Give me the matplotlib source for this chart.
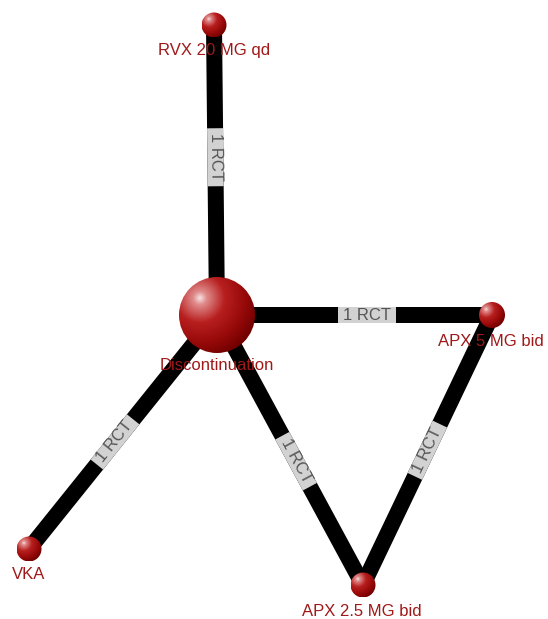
import numpy as np
import matplotlib
matplotlib.use("Agg")
import matplotlib.pyplot as plt
from matplotlib.patches import Circle, Polygon

# nodes (pixel layout of the network plot)
node_names = ["RVX 20 MG qd", "Discontinuation", "APX 5 MG bid", "VKA", "APX 2.5 MG bid"]
node_x = [214, 217, 492, 29, 363]
node_y = [25, 315, 315, 549, 585]
node_r = [12.5, 38, 13, 12.5, 12.5]
label_dx = [0, 0, -1, 0, -1]
label_dy = [30, 55, 31, 30, 31]

# edges: (from, to, label)
edge_from = [1, 1, 1, 1, 2]
edge_to = [0, 2, 3, 4, 4]
edge_labels = ["1 RCT", "1 RCT", "1 RCT", "1 RCT", "1 RCT"]

W, H = 548, 619
fig = plt.figure(figsize=(W / 100, H / 100), dpi=100)
ax = fig.add_axes([0, 0, 1, 1])
ax.set_xlim(0, W)
ax.set_ylim(H, 0)
ax.axis("off")

edge_px = 16
lw = edge_px * 72 / 100

# edges
for a, b, lab in zip(edge_from, edge_to, edge_labels):
    x1, y1, x2, y2 = node_x[a], node_y[a], node_x[b], node_y[b]
    ax.plot([x1, x2], [y1, y2], color="black", lw=lw, solid_capstyle="butt", zorder=1)
    d = np.hypot(x2 - x1, y2 - y1)
    ux, uy = (x2 - x1) / d, (y2 - y1) / d
    sx, sy = x1 + ux * node_r[a], y1 + uy * node_r[a]
    ex, ey = x2 - ux * node_r[b], y2 - uy * node_r[b]
    mx, my = (sx + ex) / 2, (sy + ey) / 2
    # label box along the edge
    hl, hw = 29, edge_px / 2
    px, py = -uy, ux
    corners = [(mx - ux * hl - px * hw, my - uy * hl - py * hw),
               (mx + ux * hl - px * hw, my + uy * hl - py * hw),
               (mx + ux * hl + px * hw, my + uy * hl + py * hw),
               (mx - ux * hl + px * hw, my - uy * hl + py * hw)]
    ax.add_patch(Polygon(corners, closed=True, facecolor="#d2d2d2", edgecolor="none", zorder=2))
    ang = np.degrees(np.arctan2(-(y2 - y1), x2 - x1))
    if ang > 90:
        ang -= 180
    elif ang < -90:
        ang += 180
    ax.text(mx, my, lab, rotation=ang, rotation_mode="anchor", ha="center", va="center",
            fontsize=12, color="#555555", family=["Liberation Sans", "DejaVu Sans"], zorder=3)


def sphere_img(n=200):
    v, u = np.mgrid[-1:1:n * 1j, -1:1:n * 1j]
    dh = np.hypot(u + 0.45, v + 0.45) / 1.45
    stops = [0.0, 0.12, 0.45, 0.8, 1.1]
    cols = np.array([[0.97, 0.90, 0.90],
                     [0.88, 0.55, 0.55],
                     [0.72, 0.12, 0.12],
                     [0.60, 0.04, 0.04],
                     [0.45, 0.00, 0.00]])
    img = np.zeros((n, n, 4))
    for c in range(3):
        img[..., c] = np.interp(dh, stops, cols[:, c])
    img[..., 3] = 1.0
    return img


simg = sphere_img()
for x, y, r in zip(node_x, node_y, node_r):
    circ = Circle((x, y), r, transform=ax.transData)
    im = ax.imshow(simg, extent=(x - r, x + r, y + r, y - r), origin="upper",
                   interpolation="bilinear", zorder=4)
    im.set_clip_path(circ)

for name, x, y, dx, dy in zip(node_names, node_x, node_y, label_dx, label_dy):
    ax.text(x + dx, y + dy, name, ha="center", va="baseline", fontsize=12,
            color="#a01818", family=["Liberation Sans", "DejaVu Sans"], zorder=5)

ax.set_xlim(0, W)
ax.set_ylim(H, 0)
ax.set_aspect("auto")
fig.savefig("out.png", dpi=100)
